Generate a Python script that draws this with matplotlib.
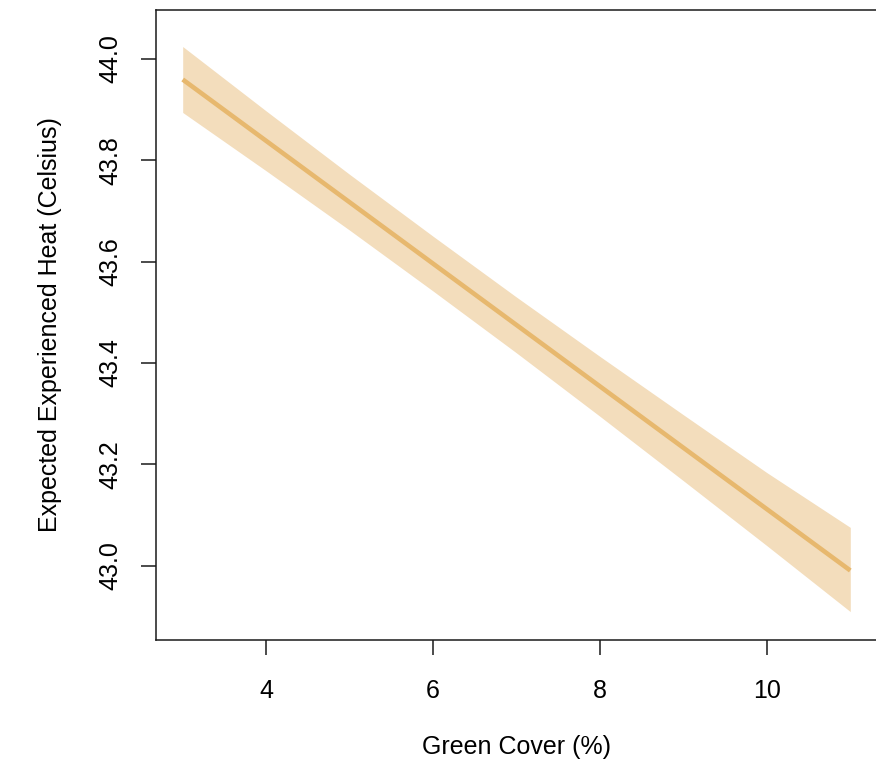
import matplotlib
matplotlib.use("Agg")
import matplotlib.pyplot as plt

# Predicted heat by green cover, with confidence band
green_cover = [3, 4, 5, 6, 7, 8, 9, 10, 11]
heat_fit = [43.959, 43.838, 43.717, 43.596, 43.475, 43.354, 43.233, 43.112, 42.991]
heat_upper = [44.024, 43.897, 43.772, 43.650, 43.530, 43.413, 43.298, 43.184, 43.076]
heat_lower = [43.894, 43.779, 43.662, 43.542, 43.420, 43.295, 43.168, 43.040, 42.910]

x_ticks = [4, 6, 8, 10]
y_ticks = [43.0, 43.2, 43.4, 43.6, 43.8, 44.0]

plt.rcParams['font.family'] = ['Liberation Sans', 'DejaVu Sans']

fig = plt.figure(figsize=(8.76, 7.64), dpi=100)
ax = fig.add_axes([156 / 876, 1 - 640 / 764, 721 / 876, 630 / 764])

ax.fill_between(green_cover, heat_lower, heat_upper, color='#F3DDBC', linewidth=0)
ax.plot(green_cover, heat_fit, color='#E7B86E', linewidth=3.3, solid_capstyle='butt')

ax.set_xlim(2.68, 11.32)
ax.set_ylim(42.854, 44.096)

ax.set_xticks(x_ticks)
ax.set_xticklabels([str(t) for t in x_ticks])
ax.set_yticks(y_ticks)
ax.set_yticklabels([f"{t:.1f}" for t in y_ticks])

for s in ax.spines.values():
    s.set_linewidth(1.1)
    s.set_color('#1a1a1a')

ax.tick_params(axis='both', direction='out', length=11, width=1.1, color='#1a1a1a',
               labelsize=18, labelcolor='black')
ax.tick_params(axis='x', pad=17)
ax.tick_params(axis='y', pad=13, labelrotation=90)
for lbl in ax.get_yticklabels():
    lbl.set_va('center')

ax.set_xlabel('Green Cover (%)', fontsize=18, va='center')
ax.set_ylabel('Expected Experienced Heat (Celsius)', fontsize=18, va='center')
ax.xaxis.set_label_coords(0.5, (640 - 747) / 630)
ax.yaxis.set_label_coords((50 - 156) / 721, 0.5)

fig.savefig('out.png', dpi=100)
